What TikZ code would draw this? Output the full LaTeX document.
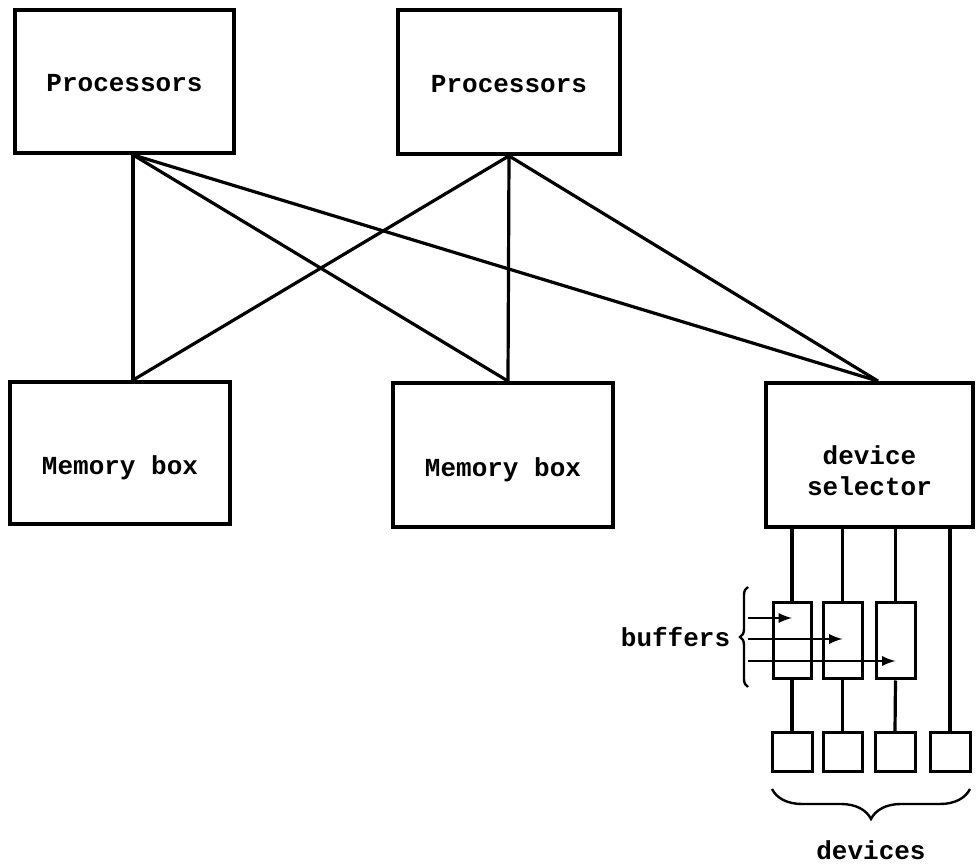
\documentclass[tikz,border=0pt]{standalone}
\usepackage{fontspec}
\setmonofont{Liberation Mono}
\usetikzlibrary{decorations.pathreplacing}

\begin{document}
\begin{tikzpicture}[x=0.5pt, y=-0.5pt, font=\ttfamily\bfseries\fontsize{13pt}{15.5pt}\selectfont,
    box/.style={draw, line width=1.9pt, inner sep=0pt},
    unit/.style={draw, line width=1.5pt, inner sep=0pt},
    wire/.style={line width=1.6pt},
    feed/.style={line width=1.3pt, -latex},
    brc/.style={line width=1.2pt, decorate}]
    \useasboundingbox (0,0) rectangle (976,865);

    % Nodes
    \node[box, minimum width=109.5pt, minimum height=71.5pt, text height=10.5pt, text depth=0pt] (P1) at (124.5,81.5) {Processors};
    \node[box, minimum width=111pt, minimum height=72pt, text height=10.5pt, text depth=0pt] (P2) at (509,82) {Processors};
    \node[box, minimum width=110pt, minimum height=71pt, text height=22pt, text depth=0pt] (M1) at (120,453) {Memory box};
    \node[box, minimum width=110pt, minimum height=72pt, text height=22pt, text depth=0pt] (M2) at (503,455) {Memory box};
    \node[box, minimum width=103.5pt, minimum height=72pt, align=center, text height=56.5pt, text depth=15.5pt] (DS) at (869.5,455) {device\\selector};

    % Buffers and devices
    \node[unit, minimum width=19pt, minimum height=38pt] (B1) at (792,641) {};
    \node[unit, minimum width=19.5pt, minimum height=38pt] (B2) at (842.5,641) {};
    \node[unit, minimum width=19.5pt, minimum height=38pt] (B3) at (895.5,641) {};
    \node[unit, minimum width=20pt, minimum height=19.5pt] (D1) at (792,752.5) {};
    \node[unit, minimum width=19.5pt, minimum height=19.5pt] (D2) at (842.5,752.5) {};
    \node[unit, minimum width=20pt, minimum height=19.5pt] (D3) at (895,752.5) {};
    \node[unit, minimum width=20pt, minimum height=19.5pt] (D4) at (950,752.5) {};

    % Connection points
    \coordinate (P1c) at ([xshift=4.25pt]P1.south);
    \coordinate (P2c) at (P2.south);
    \coordinate (M1c) at ([xshift=6.5pt]M1.north);
    \coordinate (M2c) at ([xshift=2.5pt]M2.north);
    \coordinate (DSc) at ([xshift=4.25pt]DS.north);

    % Lines
    \draw[wire] (P1c) -- (M1c);
    \draw[wire] (P1c) -- (M2c);
    \draw[wire] (P1c) -- (DSc);
    \draw[wire] (P2c) -- (M1c);
    \draw[wire] (P2c) -- (M2c);
    \draw[wire] (P2c) -- (DSc);

    \draw[wire] (B1.north |- DS.south) -- (B1.north);
    \draw[wire] (B2.north |- DS.south) -- (B2.north);
    \draw[wire] (B3.north |- DS.south) -- (B3.north);
    \draw[wire] (D4.north |- DS.south) -- (D4.north);
    \draw[wire] (B1.south) -- (D1.north);
    \draw[wire] (B2.south) -- (D2.north);
    \draw[wire] (B3.south) -- (D3.north);

    % Arrows into the buffers
    \coordinate (a1) at (748,618);
    \coordinate (a2) at (748,639);
    \coordinate (a3) at (748,661);
    \draw[feed] (a1) -- (a1 -| B1.center);
    \draw[feed] (a2) -- (a2 -| B2.center);
    \draw[feed] (a3) -- (a3 -| B3.center);

    % Braces
    \coordinate (bb) at (748,687);
    \coordinate (bt) at (748,587);
    \draw[brc, decoration={brace, amplitude=4pt}] (bb) -- (bt) node[midway, left=5pt] {buffers};
    \coordinate (dr) at (970,789);
    \coordinate (dl) at (772,789);
    \draw[brc, decoration={brace, amplitude=15pt}] (dr) -- (dl) node[midway, below=22pt] {devices};
\end{tikzpicture}
\end{document}
